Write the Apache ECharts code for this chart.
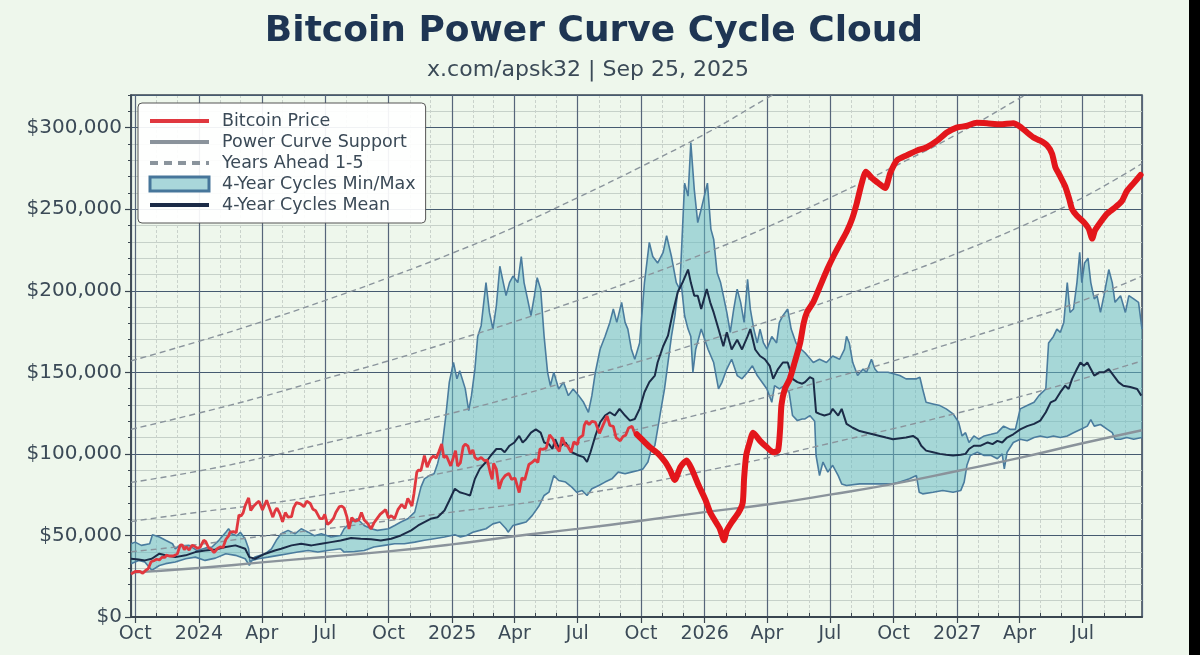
<!DOCTYPE html>
<html>
<head>
<meta charset="utf-8">
<title>Bitcoin Power Curve Cycle Cloud</title>
<script src="https://cdn.jsdelivr.net/npm/echarts@6/dist/echarts.min.js"></script>
<style>
  html, body { margin: 0; padding: 0; background: #eef7ec; }
  #chart { width: 1200px; height: 655px; }
</style>
</head>
<body>
<div id="chart"></div>
<script>
var MONTHS = ['Jan', 'Feb', 'Mar', 'Apr', 'May', 'Jun', 'Jul', 'Aug', 'Sep', 'Oct', 'Nov', 'Dec'];
var xStart = '2023-09-25';
var xEnd = '2027-09-25';

// actual price up to the snapshot date
var btcPrice = [
  ['2023-09-25', 26300], ['2023-10-01', 27900], ['2023-10-08', 27900], ['2023-10-12', 26800],
  ['2023-10-16', 28500], ['2023-10-20', 29700], ['2023-10-24', 33900], ['2023-10-28', 34500],
  ['2023-11-01', 35400], ['2023-11-05', 35000], ['2023-11-09', 36700], ['2023-11-13', 36500],
  ['2023-11-15', 37900], ['2023-11-19', 37400], ['2023-11-22', 37400], ['2023-11-26', 37500],
  ['2023-12-01', 38700], ['2023-12-05', 44000], ['2023-12-08', 44200], ['2023-12-11', 41300],
  ['2023-12-14', 43000], ['2023-12-18', 41000], ['2023-12-22', 43900], ['2023-12-25', 43600],
  ['2023-12-30', 42100], ['2024-01-03', 42800], ['2024-01-08', 47000], ['2024-01-11', 46300],
  ['2024-01-15', 42500], ['2024-01-19', 41600], ['2024-01-23', 39500], ['2024-01-28', 42000],
  ['2024-02-01', 43000], ['2024-02-05', 42600], ['2024-02-09', 47500], ['2024-02-13', 49700],
  ['2024-02-15', 52000], ['2024-02-20', 52300], ['2024-02-24', 51700], ['2024-02-28', 62500],
  ['2024-03-02', 62000], ['2024-03-05', 63800], ['2024-03-08', 68300], ['2024-03-13', 73000],
  ['2024-03-16', 65300], ['2024-03-20', 67800], ['2024-03-25', 70000], ['2024-03-28', 71000],
  ['2024-04-02', 65600], ['2024-04-08', 71600], ['2024-04-12', 67000], ['2024-04-17', 61200],
  ['2024-04-20', 64900], ['2024-04-23', 66800], ['2024-04-27', 63400], ['2024-05-01', 58300],
  ['2024-05-05', 64000], ['2024-05-09', 61200], ['2024-05-14', 61500], ['2024-05-17', 66900],
  ['2024-05-21', 70100], ['2024-05-27', 69400], ['2024-06-01', 67700], ['2024-06-05', 71000],
  ['2024-06-10', 69600], ['2024-06-14', 66000], ['2024-06-18', 65100], ['2024-06-24', 60300],
  ['2024-06-28', 60300], ['2024-07-01', 62900], ['2024-07-05', 56700], ['2024-07-09', 58000],
  ['2024-07-14', 60800], ['2024-07-17', 64100], ['2024-07-22', 67600], ['2024-07-26', 67900],
  ['2024-07-29', 66800], ['2024-08-02', 61400], ['2024-08-05', 54000], ['2024-08-09', 60900],
  ['2024-08-14', 58700], ['2024-08-19', 59500], ['2024-08-23', 64000], ['2024-08-27', 59400],
  ['2024-09-01', 57300], ['2024-09-06', 54000], ['2024-09-10', 57600], ['2024-09-14', 60000],
  ['2024-09-19', 62900], ['2024-09-27', 65800], ['2024-10-01', 60800], ['2024-10-05', 62100],
  ['2024-10-10', 60300], ['2024-10-15', 66000], ['2024-10-20', 69000], ['2024-10-25', 66600],
  ['2024-10-29', 72700], ['2024-11-04', 68000], ['2024-11-07', 75900], ['2024-11-11', 88700],
  ['2024-11-13', 90000], ['2024-11-17', 89800], ['2024-11-22', 98900], ['2024-11-26', 91900],
  ['2024-12-01', 97000], ['2024-12-05', 98700], ['2024-12-09', 97400], ['2024-12-13', 101400],
  ['2024-12-17', 106000], ['2024-12-20', 97800], ['2024-12-24', 98700], ['2024-12-30', 92600],
  ['2025-01-06', 102000], ['2025-01-09', 92500], ['2025-01-13', 94500], ['2025-01-17', 104400],
  ['2025-01-20', 106000], ['2025-01-24', 104700], ['2025-01-27', 100000], ['2025-01-31', 102400],
  ['2025-02-03', 97900], ['2025-02-07', 96500], ['2025-02-12', 97800], ['2025-02-17', 95800],
  ['2025-02-21', 96100], ['2025-02-25', 88700], ['2025-02-28', 84400], ['2025-03-02', 94200],
  ['2025-03-06', 90600], ['2025-03-10', 78500], ['2025-03-14', 84000], ['2025-03-19', 86800],
  ['2025-03-24', 88000], ['2025-03-28', 84400], ['2025-04-02', 85200], ['2025-04-08', 76300],
  ['2025-04-12', 85300], ['2025-04-16', 84000], ['2025-04-22', 93500], ['2025-04-26', 94600],
  ['2025-05-01', 96500], ['2025-05-05', 94700], ['2025-05-08', 103000], ['2025-05-12', 102800],
  ['2025-05-17', 103500], ['2025-05-22', 111600], ['2025-05-27', 109000], ['2025-05-31', 104600],
  ['2025-06-05', 101500], ['2025-06-09', 110200], ['2025-06-13', 105900], ['2025-06-17', 104600],
  ['2025-06-22', 101000], ['2025-06-26', 107300], ['2025-07-01', 105700], ['2025-07-03', 109500],
  ['2025-07-09', 111300], ['2025-07-11', 117500], ['2025-07-14', 120000], ['2025-07-18', 117900],
  ['2025-07-22', 119900], ['2025-07-27', 119400], ['2025-08-02', 112600], ['2025-08-07', 117500],
  ['2025-08-13', 123300], ['2025-08-17', 117400], ['2025-08-22', 116900], ['2025-08-26', 110000],
  ['2025-09-01', 108000], ['2025-09-05', 110700], ['2025-09-09', 111500], ['2025-09-13', 115900],
  ['2025-09-18', 117000], ['2025-09-22', 112700], ['2025-09-25', 111000]
];

// thick hand-drawn path after the snapshot date
var projection = [
  ['2025-09-25', 112000], ['2025-10-02', 109000], ['2025-10-14', 104000], ['2025-10-26', 100000],
  ['2025-11-05', 95000], ['2025-11-12', 90000], ['2025-11-19', 84000], ['2025-11-27', 92000],
  ['2025-12-06', 96000], ['2025-12-13', 91000], ['2025-12-23', 81000], ['2026-01-02', 72000],
  ['2026-01-09', 64000], ['2026-01-16', 59000], ['2026-01-23', 54000], ['2026-01-29', 47000],
  ['2026-02-02', 53000], ['2026-02-09', 58000], ['2026-02-19', 64000], ['2026-02-25', 70000],
  ['2026-02-27', 85000], ['2026-03-02', 99000], ['2026-03-07', 107000], ['2026-03-12', 113000],
  ['2026-03-22', 108000], ['2026-04-01', 104000], ['2026-04-10', 101000], ['2026-04-17', 102000],
  ['2026-04-20', 115000], ['2026-04-22', 130000], ['2026-04-27', 140000], ['2026-05-04', 146000],
  ['2026-05-11', 156000], ['2026-05-19', 168000], ['2026-05-24', 180000], ['2026-05-29', 187000],
  ['2026-06-07', 193000], ['2026-06-17', 203000], ['2026-06-27', 213000], ['2026-07-06', 221000],
  ['2026-07-16', 229000], ['2026-07-25', 236000], ['2026-08-02', 244000], ['2026-08-09', 254000],
  ['2026-08-16', 266000], ['2026-08-22', 273000], ['2026-08-31', 269000], ['2026-09-09', 266000],
  ['2026-09-19', 263000], ['2026-09-26', 272000], ['2026-10-06', 280000], ['2026-10-20', 283000],
  ['2026-11-04', 286000], ['2026-11-18', 288000], ['2026-12-03', 292000], ['2026-12-17', 297000],
  ['2026-12-31', 300000], ['2027-01-14', 301000], ['2027-01-29', 303000], ['2027-02-13', 302700],
  ['2027-03-04', 302000], ['2027-03-23', 302700], ['2027-04-02', 300600], ['2027-04-12', 297000],
  ['2027-04-21', 294000], ['2027-05-01', 292000], ['2027-05-11', 289000], ['2027-05-18', 284000],
  ['2027-05-23', 275500], ['2027-05-30', 270000], ['2027-06-06', 264000], ['2027-06-12', 256000],
  ['2027-06-16', 250000], ['2027-06-23', 246000], ['2027-07-03', 242000], ['2027-07-10', 238000],
  ['2027-07-15', 232000], ['2027-07-19', 237000], ['2027-07-27', 242000], ['2027-08-05', 247000],
  ['2027-08-17', 251000], ['2027-08-27', 255000], ['2027-09-03', 261000], ['2027-09-13', 266000],
  ['2027-09-23', 271000]
];

var powerCurve = [
  ['2023-09-25', 27200], ['2024-01-01', 30000], ['2024-04-01', 33500], ['2024-07-01', 36800],
  ['2024-10-01', 40200], ['2025-01-01', 44500], ['2025-04-01', 49500], ['2025-07-01', 54000],
  ['2025-10-01', 59000], ['2026-01-01', 64300], ['2026-04-01', 69000], ['2026-07-01', 75000],
  ['2026-10-01', 81600], ['2027-01-01', 89500], ['2027-04-01', 97500], ['2027-07-01', 106500],
  ['2027-09-25', 114500]
];

var yearsAhead1 = [
  ['2023-09-25', 40000], ['2024-01-01', 44500], ['2024-04-01', 49500], ['2024-07-01', 54000],
  ['2024-10-01', 59000], ['2025-01-01', 64300], ['2025-04-01', 69000], ['2025-07-01', 75000],
  ['2025-10-01', 81600], ['2026-01-01', 89500], ['2026-04-01', 97500], ['2026-07-01', 106500],
  ['2026-10-01', 115500], ['2027-01-01', 125000], ['2027-04-01', 135000], ['2027-07-01', 146000],
  ['2027-09-25', 157000]
];
var yearsAhead2 = [
  ['2023-09-25', 58500], ['2024-01-01', 64300], ['2024-04-01', 69000], ['2024-07-01', 75000],
  ['2024-10-01', 81600], ['2025-01-01', 89500], ['2025-04-01', 97500], ['2025-07-01', 106500],
  ['2025-10-01', 115500], ['2026-01-01', 125000], ['2026-04-01', 135000], ['2026-07-01', 146000],
  ['2026-10-01', 157000], ['2027-01-01', 169000], ['2027-04-01', 181000], ['2027-07-01', 194000],
  ['2027-09-25', 209000]
];
var yearsAhead3 = [
  ['2023-09-25', 82500], ['2024-01-01', 89500], ['2024-04-01', 97500], ['2024-07-01', 106500],
  ['2024-10-01', 115500], ['2025-01-01', 125000], ['2025-04-01', 135000], ['2025-07-01', 146000],
  ['2025-10-01', 157000], ['2026-01-01', 169000], ['2026-04-01', 181000], ['2026-07-01', 194000],
  ['2026-10-01', 208000], ['2027-01-01', 223000], ['2027-04-01', 239000], ['2027-07-01', 257000],
  ['2027-09-25', 278000]
];
var yearsAhead4 = [
  ['2023-09-25', 115000], ['2024-01-01', 125000], ['2024-04-01', 135000], ['2024-07-01', 146000],
  ['2024-10-01', 157000], ['2025-01-01', 169000], ['2025-04-01', 181000], ['2025-07-01', 194000],
  ['2025-10-01', 208000], ['2026-01-01', 223000], ['2026-04-01', 239000], ['2026-07-01', 257000],
  ['2026-10-01', 276000], ['2027-01-01', 296000], ['2027-04-01', 318000], ['2027-07-01', 340000],
  ['2027-09-25', 362000]
];
var yearsAhead5 = [
  ['2023-09-25', 157000], ['2024-01-01', 169000], ['2024-04-01', 181000], ['2024-07-01', 194000],
  ['2024-10-01', 208000], ['2025-01-01', 223000], ['2025-04-01', 239000], ['2025-07-01', 257000],
  ['2025-10-01', 276000], ['2026-01-01', 296000], ['2026-04-01', 318000], ['2026-07-01', 340000],
  ['2026-10-01', 365000]
];

var cycleMax = [
  ['2023-09-25', 44900], ['2023-10-01', 45900], ['2023-10-10', 43900], ['2023-10-22', 44900],
  ['2023-10-26', 50400], ['2023-11-05', 49000], ['2023-11-14', 47000], ['2023-11-24', 44900],
  ['2023-11-28', 41800], ['2023-12-03', 43500], ['2023-12-18', 43900], ['2023-12-29', 40800],
  ['2024-01-10', 42200], ['2024-01-20', 42900], ['2024-01-30', 47000], ['2024-02-09', 52000],
  ['2024-02-13', 54100], ['2024-02-18', 50900], ['2024-02-25', 49800], ['2024-03-01', 51900],
  ['2024-03-08', 47800], ['2024-03-13', 41800], ['2024-03-15', 33700], ['2024-03-22', 36700],
  ['2024-04-06', 38800], ['2024-04-15', 41800], ['2024-04-22', 47000], ['2024-04-29', 51000],
  ['2024-05-09', 53100], ['2024-05-19', 51000], ['2024-05-28', 54100], ['2024-06-07', 52000],
  ['2024-06-16', 49800], ['2024-06-26', 51000], ['2024-07-10', 49000], ['2024-07-24', 50000],
  ['2024-07-29', 54100], ['2024-08-08', 58200], ['2024-08-17', 60200], ['2024-08-27', 56100],
  ['2024-09-06', 54100], ['2024-09-15', 53100], ['2024-10-01', 54100], ['2024-10-10', 56100],
  ['2024-10-19', 58200], ['2024-10-29', 60200], ['2024-11-08', 64300], ['2024-11-17', 79600],
  ['2024-11-22', 84700], ['2024-11-29', 86700], ['2024-12-06', 87800], ['2024-12-11', 94000],
  ['2024-12-18', 106000], ['2024-12-23', 123500], ['2024-12-28', 144000], ['2025-01-03', 156000],
  ['2025-01-08', 146000], ['2025-01-12', 151000], ['2025-01-20', 140000], ['2025-01-25', 126500],
  ['2025-01-29', 135700], ['2025-02-03', 152000], ['2025-02-07', 172000], ['2025-02-12', 178600],
  ['2025-02-19', 205000], ['2025-02-24', 186700], ['2025-03-01', 176500], ['2025-03-06', 190800],
  ['2025-03-11', 215000], ['2025-03-16', 205000], ['2025-03-20', 197000], ['2025-03-25', 205000],
  ['2025-03-30', 209000], ['2025-04-06', 205000], ['2025-04-11', 221000], ['2025-04-15', 205000],
  ['2025-04-20', 195000], ['2025-04-25', 184700], ['2025-04-30', 197000], ['2025-05-04', 208000],
  ['2025-05-09', 201000], ['2025-05-14', 172000], ['2025-05-19', 150000], ['2025-05-23', 141800],
  ['2025-05-28', 150000], ['2025-06-04', 139800], ['2025-06-11', 143900], ['2025-06-18', 135700],
  ['2025-06-25', 139800], ['2025-07-03', 135700], ['2025-07-10', 131600], ['2025-07-17', 125500],
  ['2025-07-22', 135700], ['2025-07-27', 150000], ['2025-08-03', 164300], ['2025-08-10', 172000],
  ['2025-08-17', 180600], ['2025-08-22', 188800], ['2025-08-27', 180600], ['2025-09-03', 192900],
  ['2025-09-08', 180600], ['2025-09-12', 176500], ['2025-09-17', 164300], ['2025-09-22', 158000],
  ['2025-09-29', 168000], ['2025-10-06', 205000], ['2025-10-13', 229600], ['2025-10-18', 221000],
  ['2025-10-25', 217000], ['2025-11-02', 223500], ['2025-11-07', 233700], ['2025-11-14', 221000],
  ['2025-11-21', 205000], ['2025-11-26', 201000], ['2025-12-03', 266000], ['2025-12-08', 258000],
  ['2025-12-12', 290800], ['2025-12-17', 262000], ['2025-12-22', 241800], ['2025-12-27', 250000],
  ['2026-01-05', 266000], ['2026-01-10', 237800], ['2026-01-14', 231600], ['2026-01-19', 211000],
  ['2026-01-24', 205000], ['2026-01-28', 197000], ['2026-02-02', 186700], ['2026-02-07', 174500],
  ['2026-02-12', 188800], ['2026-02-17', 201000], ['2026-02-22', 192900], ['2026-02-27', 180600],
  ['2026-03-04', 207000], ['2026-03-08', 188800], ['2026-03-13', 176500], ['2026-03-18', 168000],
  ['2026-03-22', 176500], ['2026-03-27', 168000], ['2026-04-01', 164300], ['2026-04-08', 172000],
  ['2026-04-15', 168000], ['2026-04-19', 180600], ['2026-04-24', 184700], ['2026-05-01', 188800],
  ['2026-05-06', 176500], ['2026-05-13', 168000], ['2026-05-20', 164300], ['2026-05-26', 162000],
  ['2026-06-07', 156000], ['2026-06-16', 158000], ['2026-06-26', 156000], ['2026-07-05', 160000],
  ['2026-07-15', 158000], ['2026-07-22', 164000], ['2026-07-25', 172000], ['2026-07-29', 168000],
  ['2026-08-03', 156000], ['2026-08-10', 148000], ['2026-08-18', 152000], ['2026-08-23', 150000],
  ['2026-08-30', 158000], ['2026-09-04', 152000], ['2026-09-08', 150000], ['2026-09-23', 150000],
  ['2026-10-10', 148000], ['2026-10-19', 146000], ['2026-11-03', 146000], ['2026-11-08', 147000],
  ['2026-11-12', 139800], ['2026-11-17', 131600], ['2026-11-27', 130600], ['2026-12-07', 129600],
  ['2026-12-16', 127600], ['2026-12-26', 124500], ['2027-01-03', 119400], ['2027-01-08', 111000],
  ['2027-01-13', 113000], ['2027-01-18', 107000], ['2027-01-25', 111000], ['2027-02-01', 109000],
  ['2027-02-09', 111000], ['2027-02-19', 112000], ['2027-02-28', 113000], ['2027-03-09', 117000],
  ['2027-03-19', 115000], ['2027-03-26', 115000], ['2027-04-02', 127600], ['2027-04-12', 129600],
  ['2027-04-22', 131600], ['2027-04-29', 135700], ['2027-05-09', 139800], ['2027-05-13', 168000],
  ['2027-05-20', 172000], ['2027-05-25', 176500], ['2027-05-30', 174500], ['2027-06-04', 180600],
  ['2027-06-09', 205000], ['2027-06-13', 186700], ['2027-06-18', 188800], ['2027-06-23', 205000],
  ['2027-06-27', 223500], ['2027-06-30', 205000], ['2027-07-04', 217000], ['2027-07-09', 220000],
  ['2027-07-13', 205000], ['2027-07-18', 195000], ['2027-07-22', 197000], ['2027-07-27', 186700],
  ['2027-08-01', 197000], ['2027-08-08', 213000], ['2027-08-13', 205000], ['2027-08-17', 192900],
  ['2027-08-25', 197000], ['2027-09-01', 186700], ['2027-09-06', 197000], ['2027-09-13', 195000],
  ['2027-09-20', 192900], ['2027-09-25', 176500]
];

var cycleMin = [
  ['2023-09-25', 32700], ['2023-10-06', 34700], ['2023-10-15', 33700], ['2023-10-25', 28600],
  ['2023-11-05', 31600], ['2023-11-14', 32700], ['2023-11-28', 33700], ['2023-12-13', 35700],
  ['2023-12-27', 36700], ['2024-01-10', 34700], ['2024-01-25', 36100], ['2024-02-09', 38800],
  ['2024-02-23', 37800], ['2024-03-08', 35700], ['2024-03-14', 31600], ['2024-03-18', 34700],
  ['2024-03-27', 35700], ['2024-04-10', 36700], ['2024-04-25', 37800], ['2024-05-09', 38800],
  ['2024-05-23', 39800], ['2024-06-07', 40800], ['2024-06-21', 39800], ['2024-07-05', 40800],
  ['2024-07-24', 41800], ['2024-07-29', 39800], ['2024-08-13', 40200], ['2024-08-27', 40800],
  ['2024-09-10', 42900], ['2024-09-25', 43900], ['2024-10-10', 44900], ['2024-10-24', 44900],
  ['2024-11-08', 45900], ['2024-11-22', 47000], ['2024-12-06', 48000], ['2024-12-21', 49000],
  ['2025-01-05', 50400], ['2025-01-13', 49000], ['2025-01-22', 50000], ['2025-01-31', 52000],
  ['2025-02-10', 53100], ['2025-02-19', 54100], ['2025-03-01', 57100], ['2025-03-11', 58200],
  ['2025-03-20', 54100], ['2025-03-23', 52000], ['2025-03-30', 56100], ['2025-04-08', 57100],
  ['2025-04-18', 58200], ['2025-04-27', 62300], ['2025-05-07', 68400], ['2025-05-14', 74500],
  ['2025-05-21', 76500], ['2025-05-28', 86700], ['2025-06-04', 83700], ['2025-06-14', 82700],
  ['2025-06-23', 79600], ['2025-06-30', 76500], ['2025-07-08', 77500], ['2025-07-15', 74500],
  ['2025-07-22', 78600], ['2025-08-01', 80600], ['2025-08-10', 82700], ['2025-08-20', 84700],
  ['2025-08-29', 88800], ['2025-09-08', 87800], ['2025-09-17', 88800], ['2025-09-27', 89800],
  ['2025-10-04', 90800], ['2025-10-11', 95000], ['2025-10-16', 103000], ['2025-10-21', 105000],
  ['2025-10-25', 115000], ['2025-10-30', 127600], ['2025-11-04', 139800], ['2025-11-09', 156000],
  ['2025-11-14', 172000], ['2025-11-19', 184700], ['2025-11-23', 199000], ['2025-11-28', 205000],
  ['2025-12-03', 184700], ['2025-12-08', 176500], ['2025-12-12', 172000], ['2025-12-15', 150000],
  ['2025-12-19', 164000], ['2025-12-27', 176500], ['2026-01-06', 164000], ['2026-01-14', 156000],
  ['2026-01-21', 139800], ['2026-01-26', 143900], ['2026-02-02', 152000], ['2026-02-09', 158000],
  ['2026-02-17', 148000], ['2026-02-24', 146000], ['2026-03-04', 150000], ['2026-03-11', 154000],
  ['2026-03-18', 148000], ['2026-03-25', 143900], ['2026-04-01', 139800], ['2026-04-08', 131600],
  ['2026-04-12', 141800], ['2026-04-19', 139800], ['2026-04-26', 141800], ['2026-05-03', 137800],
  ['2026-05-08', 123500], ['2026-05-15', 120400], ['2026-05-22', 121400], ['2026-05-26', 121400],
  ['2026-06-02', 123500], ['2026-06-09', 120000], ['2026-06-11', 99000], ['2026-06-16', 86700],
  ['2026-06-21', 95000], ['2026-06-28', 88800], ['2026-07-05', 93000], ['2026-07-13', 86700],
  ['2026-07-18', 81600], ['2026-07-25', 80600], ['2026-08-13', 81600], ['2026-09-11', 81600],
  ['2026-09-30', 81600], ['2026-10-10', 82700], ['2026-10-24', 84700], ['2026-11-03', 86700],
  ['2026-11-07', 76500], ['2026-11-12', 75500], ['2026-11-27', 76500], ['2026-12-11', 77500],
  ['2026-12-26', 76500], ['2027-01-06', 77500], ['2027-01-11', 82700], ['2027-01-15', 93000],
  ['2027-01-20', 99000], ['2027-01-30', 101000], ['2027-02-09', 99000], ['2027-02-19', 99000],
  ['2027-02-28', 97000], ['2027-03-07', 100000], ['2027-03-10', 90800], ['2027-03-14', 101000],
  ['2027-03-23', 107000], ['2027-04-02', 109000], ['2027-04-12', 108000], ['2027-04-22', 110000],
  ['2027-05-01', 111000], ['2027-05-11', 110000], ['2027-05-20', 111000], ['2027-05-30', 110000],
  ['2027-06-09', 111000], ['2027-06-18', 113000], ['2027-06-28', 115000], ['2027-07-08', 117000],
  ['2027-07-13', 121000], ['2027-07-18', 117000], ['2027-07-27', 118000], ['2027-08-06', 115000],
  ['2027-08-13', 113000], ['2027-08-17', 109000], ['2027-08-25', 109000], ['2027-09-03', 110000],
  ['2027-09-13', 109000], ['2027-09-25', 110000]
];

var cycleMean = [
  ['2023-09-25', 35700], ['2023-10-06', 35300], ['2023-10-15', 34700], ['2023-10-25', 35700],
  ['2023-11-05', 38800], ['2023-11-14', 37800], ['2023-11-28', 36700], ['2023-12-13', 37800],
  ['2023-12-27', 39800], ['2024-01-10', 40800], ['2024-01-25', 41400], ['2024-02-09', 42900],
  ['2024-02-23', 43900], ['2024-03-08', 41800], ['2024-03-14', 36700], ['2024-03-22', 35700],
  ['2024-04-06', 38800], ['2024-04-20', 40800], ['2024-04-29', 41800], ['2024-05-14', 43900],
  ['2024-05-28', 44900], ['2024-06-12', 43900], ['2024-06-26', 44900], ['2024-07-10', 45900],
  ['2024-07-24', 46900], ['2024-08-08', 48400], ['2024-08-22', 48000], ['2024-09-06', 47600],
  ['2024-09-20', 46900], ['2024-10-05', 48000], ['2024-10-19', 50000], ['2024-11-03', 53100],
  ['2024-11-13', 56100], ['2024-11-22', 58200], ['2024-12-01', 60200], ['2024-12-11', 61200],
  ['2024-12-21', 65300], ['2024-12-28', 71400], ['2025-01-05', 78600], ['2025-01-12', 76500],
  ['2025-01-20', 75500], ['2025-01-27', 74500], ['2025-02-03', 84700], ['2025-02-10', 90800],
  ['2025-02-19', 95000], ['2025-02-26', 99000], ['2025-03-06', 103000], ['2025-03-13', 103000],
  ['2025-03-18', 101000], ['2025-03-25', 105000], ['2025-04-01', 107000], ['2025-04-08', 111000],
  ['2025-04-13', 107000], ['2025-04-18', 109000], ['2025-04-25', 113000], ['2025-05-02', 115000],
  ['2025-05-09', 113000], ['2025-05-14', 107000], ['2025-05-21', 106000], ['2025-05-26', 103000],
  ['2025-05-30', 109000], ['2025-06-04', 104000], ['2025-06-14', 107000], ['2025-06-23', 101000],
  ['2025-07-03', 99000], ['2025-07-10', 98000], ['2025-07-15', 95000], ['2025-07-20', 101000],
  ['2025-07-27', 111000], ['2025-08-03', 119400], ['2025-08-10', 123500], ['2025-08-17', 125500],
  ['2025-08-24', 123500], ['2025-08-31', 127600], ['2025-09-08', 123500], ['2025-09-15', 120400],
  ['2025-09-22', 121400], ['2025-09-29', 127600], ['2025-10-06', 137800], ['2025-10-13', 144000],
  ['2025-10-21', 148000], ['2025-10-25', 156000], ['2025-11-02', 166000], ['2025-11-09', 172500],
  ['2025-11-16', 186700], ['2025-11-23', 199000], ['2025-11-30', 205000], ['2025-12-08', 213000],
  ['2025-12-12', 205000], ['2025-12-17', 197000], ['2025-12-22', 197000], ['2025-12-27', 188800],
  ['2026-01-04', 201000], ['2026-01-09', 192900], ['2026-01-14', 186700], ['2026-01-21', 176500],
  ['2026-01-28', 166000], ['2026-02-02', 174500], ['2026-02-09', 164000], ['2026-02-17', 170000],
  ['2026-02-24', 164000], ['2026-03-04', 172000], ['2026-03-08', 176500], ['2026-03-15', 164000],
  ['2026-03-22', 160000], ['2026-03-29', 158000], ['2026-04-05', 154000], ['2026-04-10', 146000],
  ['2026-04-17', 152000], ['2026-04-24', 156000], ['2026-05-01', 156000], ['2026-05-08', 146000],
  ['2026-05-15', 144000], ['2026-05-22', 143000], ['2026-05-26', 144000], ['2026-06-02', 147000],
  ['2026-06-07', 146000], ['2026-06-11', 125500], ['2026-06-16', 124500], ['2026-06-23', 123500],
  ['2026-07-01', 124500], ['2026-07-05', 127600], ['2026-07-13', 123500], ['2026-07-18', 127600],
  ['2026-07-25', 118400], ['2026-08-03', 116000], ['2026-08-13', 114000], ['2026-08-23', 113000],
  ['2026-09-01', 112000], ['2026-09-11', 111000], ['2026-09-20', 110000], ['2026-09-30', 109000],
  ['2026-10-19', 110000], ['2026-10-29', 111000], ['2026-11-05', 109000], ['2026-11-10', 105000],
  ['2026-11-17', 102000], ['2026-11-27', 101000], ['2026-12-07', 100000], ['2026-12-16', 99400],
  ['2026-12-26', 99000], ['2027-01-06', 99400], ['2027-01-13', 100000], ['2027-01-18', 103000],
  ['2027-01-25', 105000], ['2027-02-04', 105000], ['2027-02-14', 107000], ['2027-02-21', 106000],
  ['2027-02-28', 108000], ['2027-03-07', 107000], ['2027-03-14', 110000], ['2027-03-23', 112000],
  ['2027-04-02', 115000], ['2027-04-12', 117000], ['2027-04-22', 118400], ['2027-05-01', 120400],
  ['2027-05-09', 125500], ['2027-05-16', 131600], ['2027-05-23', 133000], ['2027-05-30', 137800],
  ['2027-06-06', 141800], ['2027-06-11', 139800], ['2027-06-16', 146000], ['2027-06-23', 152000],
  ['2027-06-28', 156000], ['2027-07-03', 154000], ['2027-07-08', 156000], ['2027-07-13', 152000],
  ['2027-07-18', 148000], ['2027-07-25', 150000], ['2027-08-01', 150000], ['2027-08-08', 152000],
  ['2027-08-15', 148000], ['2027-08-22', 144000], ['2027-08-29', 141800], ['2027-09-08', 141000],
  ['2027-09-18', 139800], ['2027-09-24', 135700]
];

var FONT = '"DejaVu Sans", "Noto Sans", sans-serif';
var TEXT = '#3b4a57';

function ts(s) {
  var p = s.split('-');
  return new Date(+p[0], +p[1] - 1, +p[2]).getTime();
}
function pts(arr) {
  return arr.map(function (d) { return [ts(d[0]), d[1]]; });
}
function dateLabel(v) {
  var d = new Date(v);
  if (d.getDate() !== 1) return '';
  return d.getMonth() === 0 ? String(d.getFullYear()) : MONTHS[d.getMonth()];
}
function dollars(v) {
  if (v % 50000 !== 0) return '';
  return '$' + v.toLocaleString('en-US');
}

var DAY = 86400000;
var chart = echarts.init(document.getElementById('chart'));

function lineSeries(name, data, style, extra) {
  var s = {
    type: 'line', name: name, data: pts(data), showSymbol: false, symbol: 'none',
    silent: true, animation: false, lineStyle: style, itemStyle: { color: style.color }
  };
  for (var k in extra) s[k] = extra[k];
  return s;
}

var dashStyle = { color: '#8a949c', width: 1.4, type: [6, 4] };
var noDot = { opacity: 0 };

var option = {
  backgroundColor: '#eef7ec',
  animation: false,
  textStyle: { fontFamily: FONT },
  graphic: [
    {
      type: 'text', x: 594, y: 32,
      style: {
        text: 'Bitcoin Power Curve Cycle Cloud', fill: '#1e3553',
        font: 'bold 36px ' + FONT, textAlign: 'center', textVerticalAlign: 'middle'
      }
    },
    {
      type: 'text', x: 588, y: 70,
      style: {
        text: 'x.com/apsk32 | Sep 25, 2025', fill: TEXT,
        font: '22px ' + FONT, textAlign: 'center', textVerticalAlign: 'middle'
      }
    },
    { type: 'rect', shape: { x: 1189, y: 0, width: 11, height: 655 }, style: { fill: '#000' } }
  ],
  grid: {
    left: 131, right: 58, top: 95, bottom: 38,
    show: true, borderColor: '#3a4650', borderWidth: 1.5, backgroundColor: 'transparent'
  },
  legend: {
    orient: 'vertical', left: 138, top: 103,
    padding: [9, 10, 9, 10],
    backgroundColor: 'rgba(255,255,255,0.92)', borderColor: '#555', borderWidth: 1, borderRadius: 4,
    itemWidth: 59, itemHeight: 14, itemGap: 3, selectedMode: false,
    textStyle: { fontSize: 17.5, color: TEXT, fontFamily: FONT, lineHeight: 18, padding: [0, 0, 0, 8] },
    data: [
      { name: 'Bitcoin Price', lineStyle: { width: 4 }, itemStyle: noDot },
      { name: 'Power Curve Support', lineStyle: { width: 4 }, itemStyle: noDot },
      { name: 'Years Ahead 1-5', lineStyle: { width: 4, type: [8, 6] }, itemStyle: noDot },
      { name: '4-Year Cycles Min/Max', icon: 'rect',
        itemStyle: { color: '#a9d7da', borderColor: '#46769a', borderWidth: 3 } },
      { name: '4-Year Cycles Mean', lineStyle: { width: 4 }, itemStyle: noDot }
    ]
  },
  xAxis: [
    {
      type: 'time', min: ts(xStart), max: ts(xEnd), splitNumber: 16,
      minInterval: 91 * DAY, maxInterval: 91 * DAY, z: 1,
      axisLine: { show: true, lineStyle: { color: '#3a4650', width: 2 } },
      axisTick: { show: true, length: 6, lineStyle: { color: '#3a4650', width: 1.2 } },
      axisLabel: {
        formatter: dateLabel, interval: 0, fontSize: 19, color: TEXT, margin: 8,
        fontFamily: FONT, showMinLabel: false, showMaxLabel: false, hideOverlap: false
      },
      splitLine: { show: true, lineStyle: { color: '#56657a', width: 1.2 } }
    },
    {
      type: 'time', min: ts(xStart), max: ts(xEnd), splitNumber: 48,
      minInterval: 30 * DAY, maxInterval: 30 * DAY, z: 0,
      axisLine: { show: false },
      axisTick: { show: true, length: 4, lineStyle: { color: '#3a4650', width: 1 } },
      axisLabel: { show: false },
      splitLine: { show: true, lineStyle: { color: '#c9d2cb', width: 1, type: [3, 2] } }
    }
  ],
  yAxis: [
    {
      type: 'value', min: 0, max: 320000, interval: 50000, position: 'left', z: 1,
      axisLine: { show: true, lineStyle: { color: '#3a4650', width: 1.5 } },
      axisTick: { show: true, length: 6, lineStyle: { color: '#3a4650', width: 1.2 } },
      axisLabel: { formatter: dollars, fontSize: 20, color: TEXT, margin: 9, fontFamily: FONT, showMaxLabel: false },
      splitLine: { show: true, lineStyle: { color: '#455a70', width: 1.2 } }
    },
    {
      type: 'value', min: 0, max: 320000, interval: 10000, position: 'left', z: 0,
      axisLine: { show: false },
      axisTick: { show: true, length: 3, lineStyle: { color: '#3a4650', width: 1 } },
      axisLabel: { show: false },
      splitLine: { show: true, lineStyle: { color: '#c6d1c9', width: 1 } }
    }
  ],
  series: [
    {
      type: 'custom', name: '4-Year Cycles Min/Max', silent: true, z: 2,
      itemStyle: { color: '#a9d7da' },
      data: [[ts(xStart), 0]],
      renderItem: function (params, api) {
        var top = cycleMax.map(function (d) { return api.coord([ts(d[0]), d[1]]); });
        var bottom = cycleMin.slice().reverse().map(function (d) { return api.coord([ts(d[0]), d[1]]); });
        return {
          type: 'polygon',
          shape: { points: top.concat(bottom) },
          style: { fill: 'rgba(100,186,196,0.52)' }
        };
      }
    },
    lineSeries('4-Year Cycles Min/Max', cycleMax, { color: '#4a7c9e', width: 1.6 }, { z: 3 }),
    lineSeries('4-Year Cycles Min/Max', cycleMin, { color: '#4a7c9e', width: 1.6 }, { z: 3 }),
    lineSeries('Years Ahead 1-5', yearsAhead1, dashStyle, { smooth: true, z: 3 }),
    lineSeries('Years Ahead 1-5', yearsAhead2, dashStyle, { smooth: true, z: 3 }),
    lineSeries('Years Ahead 1-5', yearsAhead3, dashStyle, { smooth: true, z: 3 }),
    lineSeries('Years Ahead 1-5', yearsAhead4, dashStyle, { smooth: true, z: 3 }),
    lineSeries('Years Ahead 1-5', yearsAhead5, dashStyle, { smooth: true, z: 3 }),
    lineSeries('Power Curve Support', powerCurve, { color: '#8a939b', width: 2.4 }, { smooth: true, z: 4 }),
    lineSeries('4-Year Cycles Mean', cycleMean, { color: '#1b2b47', width: 2 }, { z: 5 }),
    lineSeries('Bitcoin Price', btcPrice, { color: '#e0383f', width: 2.8 }, { z: 6 }),
    lineSeries('Projection', projection, { color: '#e3161b', width: 6, cap: 'round', join: 'round' }, { z: 7, smooth: 0.2 })
  ]
};

chart.setOption(option);
window.addEventListener('resize', chart.resize);
</script>
</body>
</html>
